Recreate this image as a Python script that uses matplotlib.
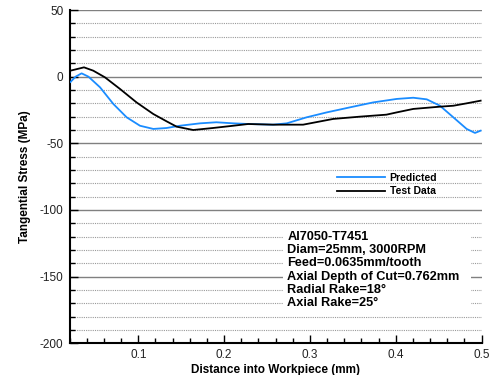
import matplotlib
matplotlib.use("Agg")
import matplotlib.pyplot as plt
from matplotlib.ticker import MultipleLocator
from matplotlib.patches import Rectangle

plt.rcParams['font.family'] = ['Liberation Sans', 'DejaVu Sans']

# ---- data ----
pred_x = [0.021, 0.027, 0.034, 0.042, 0.0555, 0.071, 0.0865, 0.102, 0.1175, 0.133,
          0.1485, 0.172, 0.191, 0.2107, 0.228, 0.257, 0.273, 0.296, 0.3195, 0.3466,
          0.3737, 0.401, 0.4203, 0.436, 0.4514, 0.467, 0.4825, 0.4922, 0.4988]
pred_y = [-4, 0, 2.5, 0, -8, -20.5, -30.5, -36.8, -39.2, -38.5,
          -36.8, -35, -34.2, -35, -35.5, -36, -35, -30.5, -26.8, -23,
          -19.3, -16.7, -15.8, -17, -21.8, -30.5, -39.2, -42.2, -40.5]

test_x = [0.021, 0.0368, 0.0476, 0.0612, 0.0787, 0.098, 0.1175, 0.133, 0.1447, 0.164,
          0.187, 0.2107, 0.228, 0.257, 0.292, 0.327, 0.358, 0.389, 0.401, 0.4203,
          0.4514, 0.467, 0.4825, 0.4988]
test_y = [4.5, 7, 4.5, -0.5, -9.2, -19.3, -28, -33.5, -37.5, -40,
          -38.5, -36.8, -35.5, -36, -36, -31.7, -30, -28.5, -26.8, -24.2,
          -22.5, -21.8, -20, -18]

series_labels = ["Predicted", "Test Data"]
x_label = "Distance into Workpiece (mm)"
y_label = "Tangential Stress (MPa)"
note_lines = ["Al7050-T7451",
              "Diam=25mm, 3000RPM",
              "Feed=0.0635mm/tooth",
              "Axial Depth of Cut=0.762mm",
              "Radial Rake=18\u00b0",
              "Axial Rake=25\u00b0"]

# ---- figure ----
fig = plt.figure(figsize=(4.9, 3.75), dpi=100)
ax = fig.add_axes([0.142, 0.0845, 0.841, 0.8888])

ax.set_xlim(0.02, 0.5)
ax.set_ylim(-200, 50)

ax.yaxis.set_major_locator(MultipleLocator(50))
ax.yaxis.set_minor_locator(MultipleLocator(10))
ax.xaxis.set_major_locator(MultipleLocator(0.1))
ax.xaxis.set_minor_locator(MultipleLocator(0.02))

ax.grid(which='major', axis='y', color='#808080', linewidth=1.0, linestyle='-', zorder=0)
ax.grid(which='minor', axis='y', color='#9a9a9a', linewidth=0.8, linestyle=(0, (1, 1)), zorder=0)
ax.set_axisbelow(True)

for s in ['top', 'right']:
    ax.spines[s].set_visible(False)
for s in ['left', 'bottom']:
    ax.spines[s].set_linewidth(1.5)
    ax.spines[s].set_color('black')

ax.tick_params(which='major', direction='in', length=6, width=1.0, labelsize=8.5,
               colors='black', labelcolor='#222222')
ax.tick_params(which='minor', direction='in', length=3.5, width=1.0)
ax.tick_params(axis='y', which='major', pad=4.5)
ax.tick_params(axis='x', which='major', pad=4)
ax.set_xticklabels([])
ax.xaxis.set_major_formatter(matplotlib.ticker.FormatStrFormatter('%.1f'))
ax.yaxis.set_major_formatter(matplotlib.ticker.FormatStrFormatter('%d'))

ax.plot(pred_x, pred_y, color='#1a8cff', linewidth=1.3, label=series_labels[0], zorder=3)
ax.plot(test_x, test_y, color='black', linewidth=1.3, label=series_labels[1], zorder=3)

ax.set_xlabel(x_label, fontsize=8.5, fontweight='bold', labelpad=2)
ax.set_ylabel(y_label, fontsize=8.5, fontweight='bold', labelpad=6)

leg = ax.legend(loc='center left', bbox_to_anchor=(0.649, 0.476), frameon=False,
                borderpad=0, borderaxespad=0, handlelength=4.6, handletextpad=0.45,
                labelspacing=0.3, prop={'weight': 'bold', 'size': 7.5})

# white box behind the annotation text
ax.add_patch(Rectangle((0.2686, -175.5), 0.219, 60.75, facecolor='white',
                       edgecolor='none', zorder=2))
for i, line in enumerate(note_lines):
    ax.text(0.2735, -120 - 10 * i, line, fontsize=9.2, fontweight='bold',
            ha='left', va='center', zorder=4)

fig.savefig('out.png', dpi=100)
